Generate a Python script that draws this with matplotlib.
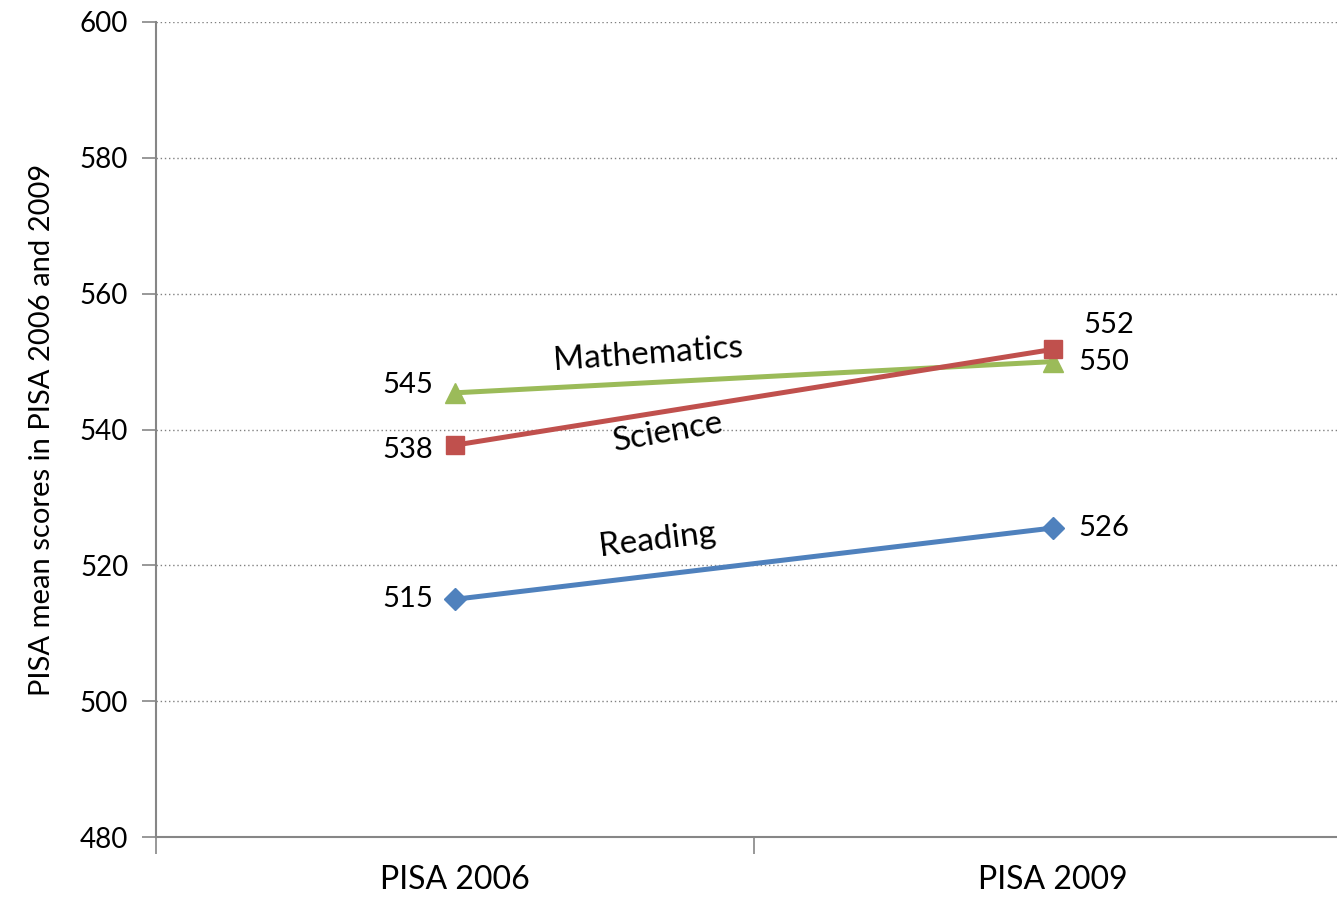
import numpy as np
import matplotlib.pyplot as plt

plt.rcParams['font.family'] = ['Lato', 'DejaVu Sans']

# data
categories = ["PISA 2006", "PISA 2009"]
reading = [515, 525.5]
science = [537.7, 551.8]
mathematics = [545.4, 550]
reading_labels = ["515", "526"]
science_labels = ["538", "552"]
math_labels = ["545", "550"]

blue = "#4F81BD"
red = "#C0504D"
green = "#9BBB59"
grey = "#868686"

fig = plt.figure(figsize=(13.37, 9.01), dpi=100)
ax = fig.add_axes([156/1337, 64/901, 1196/1337, 815/901])

x = np.arange(len(categories))
ax.plot(x, reading, color=blue, lw=3.6, marker="D", ms=11, zorder=3)
ax.plot(x, science, color=red, lw=3.6, marker="s", ms=13, zorder=3)
ax.plot(x, mathematics, color=green, lw=3.6, marker="^", ms=14, zorder=2)

ax.set_xlim(-0.5, 1.5)
ax.set_ylim(480, 600)
ax.set_yticks(np.arange(480, 601, 20))
ax.set_xticks(x)
ax.set_xticklabels(categories)
ax.set_xticks([-0.5, 0.5, 1.5], minor=True)
ax.tick_params(axis="x", which="major", length=0, pad=20, labelsize=23)
ax.tick_params(axis="x", which="minor", length=12, color=grey, width=1.2)
ax.tick_params(axis="y", length=10, color=grey, width=1.2, labelsize=20, pad=10)

ax.grid(axis="y", linestyle=(0, (1, 2)), color="#808080", lw=1)
ax.set_axisbelow(True)
for s in ["top", "right"]:
    ax.spines[s].set_visible(False)
for s in ["left", "bottom"]:
    ax.spines[s].set_color(grey)
    ax.spines[s].set_linewidth(1.5)

ax.set_ylabel("PISA mean scores in PISA 2006 and 2009", fontsize=21, labelpad=18)

# point labels
def label(xi, yi, txt, dx, dy, ha):
    ax.annotate(txt, (xi, yi), xytext=(dx, dy), textcoords="offset pixels",
                ha=ha, va="center", fontsize=21)

label(0, reading[0], reading_labels[0], -22, 0, "right")
label(1, reading[1], reading_labels[1], 25, 0, "left")
label(0, science[0], science_labels[0], -22, -5, "right")
label(1, science[1], science_labels[1], 30, 24, "left")
label(0, mathematics[0], math_labels[0], -22, 8, "right")
label(1, mathematics[1], math_labels[1], 25, 0, "left")

# series names
ax.text(0.323, 551.0, "Mathematics", rotation=4, fontsize=24, ha="center", va="center")
ax.text(0.356, 539.6, "Science", rotation=10, fontsize=24, ha="center", va="center")
ax.text(0.338, 523.7, "Reading", rotation=7, fontsize=24, ha="center", va="center")

fig.savefig("out.png", dpi=100)
